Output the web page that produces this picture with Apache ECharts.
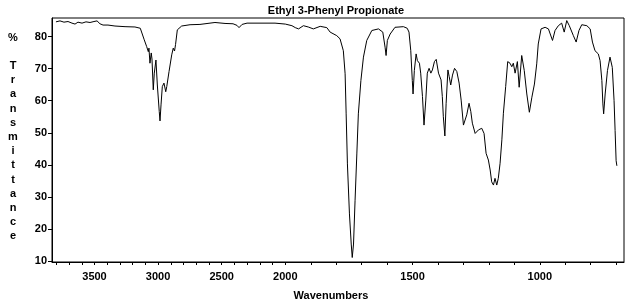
<!DOCTYPE html>
<html><head><meta charset="utf-8">
<script src="https://cdn.jsdelivr.net/npm/echarts@6/dist/echarts.min.js"></script>
<style>html,body{margin:0;padding:0;background:#fff}#c{width:638px;height:303px}</style>
</head><body><div id="c"></div>
<script>
// Wavenumbers (cm-1)
const wavenumbers = [
3803,3771,3740,3708,3677,3653,3630,3598,3567,3535,3504,3480,3457,3433,3394,3339,3260,3182,3140,3129,
3109,3090,3077,3072,3064,3054,3048,3038,3030,3017,3006,2991,2985,2977,2967,2954,2940,2932,2914,2893,
2881,2871,2863,2849,2815,2749,2671,2553,2474,2411,2380,2364,2340,2301,2199,2081,2000,1974,1961,1948,
1929,1910,1890,1863,1837,1824,1798,1785,1772,1765,1761,1756,1748,1741,1737,1732,1726,1719,1713,1703,
1693,1680,1660,1634,1617,1608,1604,1599,1588,1569,1536,1521,1514,1507,1501,1498,1493,1486,1481,1473,
1468,1461,1455,1448,1442,1435,1428,1422,1414,1407,1398,1388,1383,1379,1373,1368,1361,1356,1350,1343,
1335,1326,1317,1309,1300,1293,1287,1278,1271,1265,1254,1241,1228,1219,1211,1202,1195,1189,1182,1176,
1169,1163,1156,1149,1143,1134,1126,1117,1110,1104,1097,1088,1081,1071,1061,1051,1041,1031,1021,1012,
1006,995,979,966,950,940,927,914,904,894,884,868,857,846,835,815,802,793,783,770,
763,756,752,749,743,734,724,715,708,704,700,697
];
// % Transmittance at each wavenumber
const transmittance = [
84.6,84.9,84.5,84.7,84.2,83.9,84.5,84.2,84.6,84.4,84.7,84.9,84.0,83.6,83.6,83.3,83.1,83.0,82.6,82.0,
79.0,76.9,75.3,76.4,71.7,74.9,73.0,63.4,68.6,72.7,64.9,56.6,53.7,58.7,64.4,65.5,62.8,64.4,69.1,74.3,
76.4,75.5,77.5,82.1,83.3,83.7,83.8,84.4,84.1,84.0,83.5,82.8,83.8,84.2,84.2,84.2,83.9,83.4,82.8,82.4,
83.4,83.0,82.4,83.2,82.8,81.4,80.3,79.3,75.6,68.4,55.9,40.3,24.7,15.3,11.1,15.3,28.8,43.4,55.9,66.3,
73.6,78.8,81.9,82.4,81.4,76.7,74.1,78.8,80.8,82.9,83.1,82.6,81.4,75.6,66.3,62.1,69.4,74.6,72.5,71.7,
68.6,61.3,52.4,60.2,68.6,70.1,68.6,69.6,72.2,72.9,68.6,66.5,61.3,55.0,49.0,59.2,69.6,67.5,64.9,68.0,
70.1,69.1,65.5,60.2,52.4,52.3,55.6,59.2,56.6,53.0,49.8,50.9,51.4,49.8,43.6,41.5,38.4,34.7,33.7,35.8,
33.7,35.8,40.5,47.8,56.1,64.4,72.2,71.7,70.6,71.7,68.6,72.2,64.2,74.1,69.4,62.1,56.4,61.1,65.2,71.5,
77.7,82.4,82.9,82.4,78.8,81.9,83.4,84.2,81.4,85.0,83.4,80.3,78.3,81.9,83.7,83.4,82.4,78.3,75.6,74.6,
72.5,66.3,59.0,55.9,62.1,69.4,73.6,70.4,60.0,50.7,41.3,39.7
];
const xTickLabels = [3500, 3000, 2500, 2000, 1500, 1000];
const xTickMarks = [3800,3700,3600,3500,3400,3300,3200,3100,3000,2900,2800,2700,2600,2500,2400,2300,2200,2100,2000,
  1900,1800,1700,1600,1500,1400,1300,1200,1100,1000,900,800,700];
const yTickLabels = [10, 20, 30, 40, 50, 60, 70, 80];
const titleText = 'Ethyl 3-Phenyl Propionate';
const xAxisTitle = 'Wavenumbers';
const yAxisTitle = '%\n\nT\nr\na\nn\ns\nm\ni\nt\nt\na\nn\nc\ne';

// Spectrometer axis: scale halves above 2000 cm-1
const BREAK = 2000;
function toAxis(wn) { return wn > BREAK ? BREAK + (wn - BREAK) / 2 : wn; }
function fromAxis(u) { return u > BREAK ? BREAK + (u - BREAK) * 2 : u; }

const seriesData = wavenumbers.map((w, i) => [toAxis(w), transmittance[i]]);
const FONT = '"Liberation Sans", Arial, sans-serif';

const chart = echarts.init(document.getElementById('c'), null, {renderer: 'canvas'});
chart.setOption({
  animation: false,
  backgroundColor: '#fff',
  grid: {left: 52, right: 14, top: 18, bottom: 41, show: true, borderColor: '#000', borderWidth: 1, containLabel: false},
  xAxis: {
    type: 'value', inverse: true,
    min: toAxis(669), max: toAxis(3834),
    axisLine: {show: true, lineStyle: {color: '#000', width: 1}},
    axisTick: {show: true, length: 3, lineStyle: {color: '#000'}, customValues: xTickMarks.map(toAxis)},
    axisLabel: {show: true, color: '#000', fontFamily: FONT, fontWeight: 'bold', fontSize: 11, margin: 9,
      customValues: xTickLabels.map(toAxis), formatter: v => String(Math.round(fromAxis(v)))},
    splitLine: {show: false}
  },
  yAxis: {
    type: 'value', min: 9.7, max: 85.8,
    axisLine: {show: true, lineStyle: {color: '#000', width: 1}},
    axisTick: {show: true, length: 4, lineStyle: {color: '#000'}, customValues: yTickLabels},
    axisLabel: {show: true, color: '#000', fontFamily: FONT, fontWeight: 'bold', fontSize: 11, margin: 5,
      customValues: yTickLabels},
    splitLine: {show: false}
  },
  series: [{
    type: 'line', data: seriesData, showSymbol: false, symbol: 'none',
    lineStyle: {color: '#000', width: 1}, smooth: false
  }],
  graphic: [
    {type: 'text', x: 336, y: 11, style: {text: titleText, font: 'bold 11px ' + FONT, fill: '#000', align: 'center', verticalAlign: 'middle'}},
    {type: 'text', x: 331, y: 296, style: {text: xAxisTitle, font: 'bold 11px ' + FONT, fill: '#000', align: 'center', verticalAlign: 'middle'}},
    {type: 'text', x: 13, y: 30.5, style: {text: yAxisTitle, font: 'bold 11px ' + FONT, fill: '#000', align: 'center', verticalAlign: 'top', lineHeight: 14.2}}
  ]
});
</script>
</body></html>
